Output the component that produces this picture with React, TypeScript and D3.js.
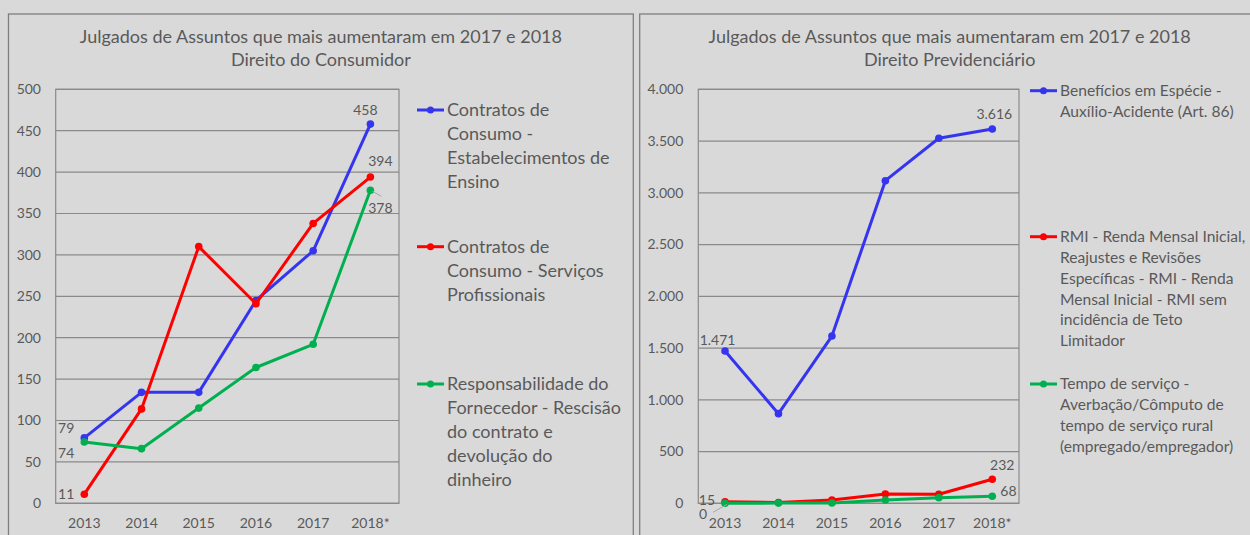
import React from 'react';
import * as d3 from 'd3';

// ---------- DATA ----------
const years = ['2013', '2014', '2015', '2016', '2017', '2018*'];

// Direito do Consumidor
const consumoEnsino = [79, 134, 134, 245, 305, 458];
const consumoServicos = [11, 114, 310, 241, 338, 394];
const responsabilidadeFornecedor = [74, 66, 115, 164, 192, 378];
const consumidorTicks = [0, 50, 100, 150, 200, 250, 300, 350, 400, 450, 500];
const consumidorLegend = [
  ['Contratos de', 'Consumo -', 'Estabelecimentos de', 'Ensino'],
  ['Contratos de', 'Consumo - Serviços', 'Profissionais'],
  ['Responsabilidade do', 'Fornecedor - Rescisão', 'do contrato e', 'devolução do', 'dinheiro'],
];

// Direito Previdenciário
const auxilioAcidente = [1471, 866, 1616, 3117, 3527, 3616];
const rmiRendaMensal = [15, 8, 32, 90, 87, 232];
const tempoServicoRural = [0, 2, 3, 32, 54, 68];
const previdenciarioTicks = [0, 500, 1000, 1500, 2000, 2500, 3000, 3500, 4000];
const previdenciarioLegend = [
  ['Benefícios em Espécie -', 'Auxílio-Acidente (Art. 86)'],
  ['RMI - Renda Mensal Inicial,', 'Reajustes e Revisões', 'Específicas - RMI - Renda', 'Mensal Inicial - RMI sem', 'incidência de Teto', 'Limitador'],
  ['Tempo de serviço -', 'Averbação/Cômputo de', 'tempo de serviço rural', '(empregado/empregador)'],
];

const colors = ['#3535f0', '#ff0000', '#00b050'];
const BG = '#d9d9d9';
const TXT = '#595959';
const GRID = '#8a8a8a';
const FONT = 'Lato, "Open sans", sans-serif';

const ptLocale = d3.formatLocale({ decimal: ',', thousands: '.', grouping: [3], currency: ['R$', ''] });
const fmtPt = ptLocale.format(',d');

type LabelSpec = { s: number; i: number; dx: number; dy: number; anchor: string; leader?: [number, number] };

type ChartProps = {
  panelX: number;
  panelW: number;
  title2: string;
  plot: { left: number; right: number; top: number; bottom: number };
  ticks: number[];
  fmt: (v: number) => string;
  series: number[][];
  labels: LabelSpec[];
  legend: string[][];
  legendX: number;
  legendTops: number[];
  legendLH: number;
  legendFS: number;
  tickLabelRight: number;
};

function Chart(p: ChartProps) {
  const x = d3.scalePoint<string>().domain(years).range([p.plot.left, p.plot.right]).padding(0.5);
  const y = d3.scaleLinear().domain([0, p.ticks[p.ticks.length - 1]]).range([p.plot.bottom, p.plot.top]);
  const line = d3.line<number>().x((_, i) => x(years[i])!).y((d) => y(d));
  const cx = p.panelX + p.panelW / 2;
  return (
    <g>
      <text x={cx} y={37} dy="0.35em" textAnchor="middle" fontSize={18} fill={TXT} fontFamily={FONT}>
        Julgados de Assuntos que mais aumentaram em 2017 e 2018
      </text>
      <text x={cx} y={60} dy="0.35em" textAnchor="middle" fontSize={18} fill={TXT} fontFamily={FONT}>
        {p.title2}
      </text>
      {p.ticks.map((t) => (
        <g key={t}>
          <line x1={p.plot.left} x2={p.plot.right} y1={y(t)} y2={y(t)} stroke={GRID} strokeWidth={1.2} />
          <text x={p.tickLabelRight} y={y(t)} dy="0.35em" textAnchor="end" fontSize={14} fill={TXT} fontFamily={FONT}>
            {p.fmt(t)}
          </text>
        </g>
      ))}
      <rect x={p.plot.left} y={p.plot.top} width={p.plot.right - p.plot.left} height={p.plot.bottom - p.plot.top} fill="none" stroke={GRID} strokeWidth={1.2} />
      {years.map((yr) => (
        <text key={yr} x={x(yr)} y={p.plot.bottom + 20} dy="0.35em" textAnchor="middle" fontSize={14} fill={TXT} fontFamily={FONT}>
          {yr}
        </text>
      ))}
      {p.series.map((s, si) => (
        <g key={si}>
          <path d={line(s)!} fill="none" stroke={colors[si]} strokeWidth={3} strokeLinejoin="round" />
          {s.map((v, i) => (
            <circle key={i} cx={x(years[i])} cy={y(v)} r={3.8} fill={colors[si]} />
          ))}
        </g>
      ))}
      {p.labels.map((l, k) => {
        const px = x(years[l.i])!;
        const py = y(p.series[l.s][l.i]);
        return (
          <g key={k}>
            {l.leader && (
              <line x1={px + 2} y1={py + 1} x2={px + l.leader[0]} y2={py + l.leader[1]} stroke="#a6a6a6" strokeWidth={1} />
            )}
            <text x={px + l.dx} y={py + l.dy} dy="0.35em" textAnchor={l.anchor} fontSize={14} fill={TXT} fontFamily={FONT}>
              {p.fmt(p.series[l.s][l.i])}
            </text>
          </g>
        );
      })}
      {p.legend.map((lines, li) => (
        <g key={li}>
          <line x1={p.legendX - 30} x2={p.legendX - 3} y1={p.legendTops[li]} y2={p.legendTops[li]} stroke={colors[li]} strokeWidth={3} />
          <circle cx={p.legendX - 16.5} cy={p.legendTops[li]} r={3.5} fill={colors[li]} />
          {lines.map((t, j) => (
            <text key={j} x={p.legendX} y={p.legendTops[li] + j * p.legendLH} dy="0.35em" fontSize={p.legendFS} fill={TXT} fontFamily={FONT}>
              {t}
            </text>
          ))}
        </g>
      ))}
    </g>
  );
}

export default function App() {
  return (
    <svg width={1250} height={535} style={{ position: 'absolute', left: 0, top: 0, display: 'block' }}>
      <rect x={0} y={0} width={1250} height={535} fill={BG} />
      <rect x={8.5} y={14} width={624.8} height={540} fill={BG} stroke="#7f7f7f" strokeWidth={1.3} />
      <rect x={639.7} y={14} width={640} height={540} fill={BG} stroke="#7f7f7f" strokeWidth={1.3} />
      <Chart
        panelX={8.5}
        panelW={624.8}
        title2="Direito do Consumidor"
        plot={{ left: 55.7, right: 399, top: 89.3, bottom: 503.3 }}
        ticks={consumidorTicks}
        fmt={(v) => String(v)}
        series={[consumoEnsino, consumoServicos, responsabilidadeFornecedor]}
        labels={[
          { s: 0, i: 0, dx: -10, dy: -10, anchor: 'end' },
          { s: 2, i: 0, dx: -10, dy: 11, anchor: 'end' },
          { s: 1, i: 0, dx: -10, dy: 0, anchor: 'end' },
          { s: 0, i: 5, dx: -5, dy: -14, anchor: 'middle' },
          { s: 1, i: 5, dx: 10, dy: -15.5, anchor: 'middle' },
          { s: 2, i: 5, dx: 10, dy: 18, anchor: 'middle', leader: [11, 6] },
        ]}
        legend={consumidorLegend}
        legendX={447}
        legendTops={[110, 246.7, 384]}
        legendLH={23.9}
        legendFS={18}
        tickLabelRight={41}
      />
      <Chart
        panelX={639.7}
        panelW={620}
        title2="Direito Previdenciário"
        plot={{ left: 698.3, right: 1019, top: 89.3, bottom: 503.3 }}
        ticks={previdenciarioTicks}
        fmt={fmtPt}
        series={[auxilioAcidente, rmiRendaMensal, tempoServicoRural]}
        labels={[
          { s: 0, i: 0, dx: -7.5, dy: -11, anchor: 'middle' },
          { s: 0, i: 5, dx: 2, dy: -15, anchor: 'middle' },
          { s: 1, i: 0, dx: -10, dy: -2, anchor: 'end' },
          { s: 2, i: 0, dx: -18, dy: 11, anchor: 'end', leader: [-12, 9] },
          { s: 1, i: 5, dx: 10, dy: -14, anchor: 'middle' },
          { s: 2, i: 5, dx: 8, dy: -5, anchor: 'start' },
        ]}
        legend={previdenciarioLegend}
        legendX={1060}
        legendTops={[90.7, 236.7, 384]}
        legendLH={20.8}
        legendFS={15.6}
        tickLabelRight={683.3}
      />
    </svg>
  );
}
